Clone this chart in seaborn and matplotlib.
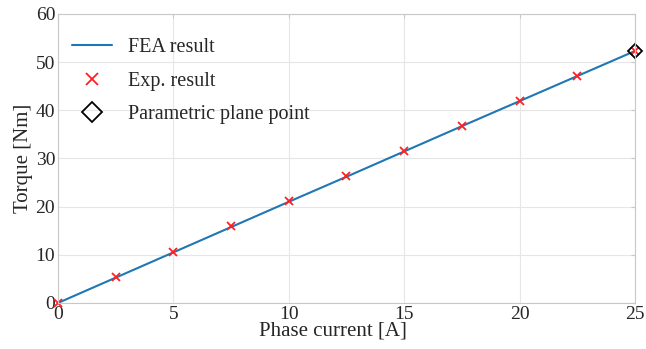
import numpy as np
import matplotlib
matplotlib.use('Agg')
import matplotlib.pyplot as plt
import seaborn as sns

sns.set_style("whitegrid")
plt.rcParams['font.family'] = ['Liberation Serif', 'DejaVu Serif']

current = [0, 2.5, 5, 7.5, 10, 12.5, 15, 17.5, 20, 22.5, 25]
fea_torque = [0, 5.25, 10.5, 15.75, 21.0, 26.2, 31.45, 36.7, 41.9, 47.1, 52.3]
exp_torque = [0, 5.3, 10.6, 15.9, 21.1, 26.4, 31.6, 36.8, 42.0, 47.1, 52.3]
plane_current = [25]
plane_torque = [52.3]

fig = plt.figure(figsize=(6.46, 3.49), dpi=100)
ax = fig.add_axes([0.0898, 0.132, 0.893, 0.828])

sns.lineplot(x=current, y=fea_torque, ax=ax, color='#1f77b4', linewidth=1.5,
             label='FEA result')
ax.plot(current, exp_torque, linestyle='none', marker='x', color='#ff2020',
        markersize=6, markeredgewidth=1.3, label='Exp. result', clip_on=False)
ax.plot(plane_current, plane_torque, linestyle='none', marker='D',
        markerfacecolor='none', markeredgecolor='black', markersize=7,
        markeredgewidth=1.3, label='Parametric plane point', clip_on=False)

ax.set_xlim(0, 25)
ax.set_ylim(0, 60)
ax.set_xticks([0, 5, 10, 15, 20, 25])
ax.set_yticks([0, 10, 20, 30, 40, 50, 60])
ax.grid(True, color='#e6e6e6', linewidth=0.8)
for s in ax.spines.values():
    s.set_color('#c8c8c8')
    s.set_linewidth(0.8)
ax.tick_params(axis='both', direction='in', length=3, color='#c8c8c8',
               labelsize=14, pad=2, top=True, right=True)
ax.set_xlabel('Phase current [A]', fontsize=15)
ax.xaxis.set_label_coords(0.476, -0.065)
ax.set_ylabel('Torque [Nm]', fontsize=15, labelpad=2)

ax.legend(loc='upper left', frameon=False, fontsize=14.5,
          bbox_to_anchor=(0.024, 0.917), borderaxespad=0, borderpad=0,
          handlelength=2.0, handletextpad=0.8, labelspacing=0.72, markerscale=1.4)

fig.savefig('out.png', dpi=100)
